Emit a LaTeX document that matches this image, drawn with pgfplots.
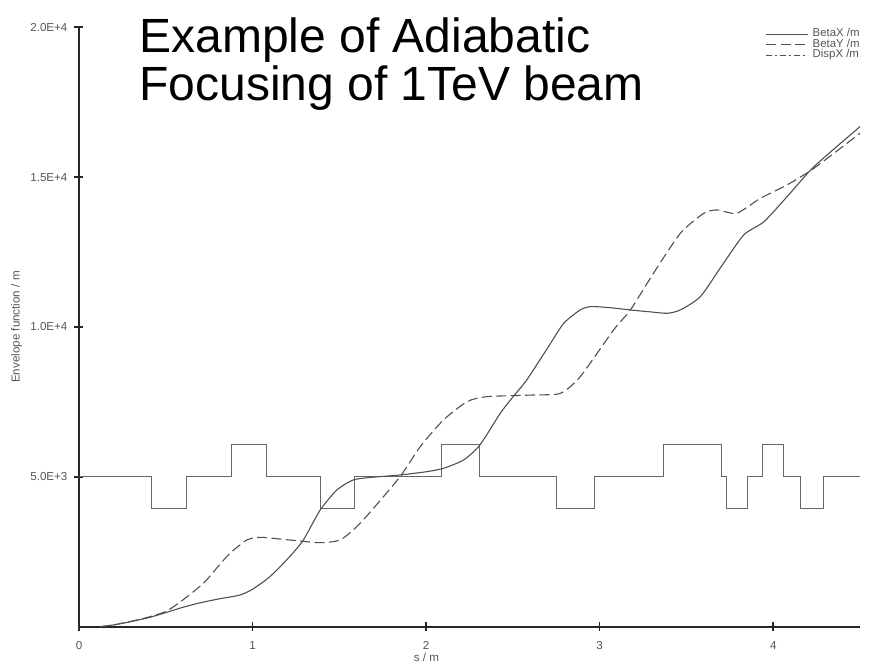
\documentclass[border=0pt]{standalone}
\usepackage{pgfplots}
\pgfplotsset{compat=1.18}
\usepackage{fontspec}
\setmainfont{Liberation Sans}

\definecolor{curve}{HTML}{505050}
\definecolor{lattice}{HTML}{666666}
\definecolor{labelgray}{HTML}{555555}

% beta functions along the final focus (s in m, beta in m)
\pgfplotstableread{
s      beta
0.12   0
0.20   60
0.30   170
0.40   300
0.506  480
0.60   650
0.70   800
0.80   920
0.927  1058
1.00   1250
1.10   1670
1.20   2250
1.29   2870
1.39   3895
1.486  4562
1.58   4895
1.68   4980
1.85   5062
2.00   5170
2.10   5285
2.216  5563
2.31   6063
2.427  7120
2.505  7700
2.58   8233
2.70   9300
2.793  10124
2.888  10569
2.946  10680
3.05   10650
3.177  10569
3.30   10500
3.39   10458
3.465  10569
3.58   11012
3.70   12013
3.83   13071
3.947  13515
4.08   14350
4.235  15350
4.50   16685
}\betax

\pgfplotstableread{
s      beta
0.12   0
0.20   60
0.30   180
0.40   320
0.506  524
0.60   900
0.717  1448
0.80   2000
0.87   2449
0.967  2893
1.043  2983
1.15   2930
1.255  2870
1.39   2803
1.505  2893
1.60   3337
1.68   3838
1.85   5006
1.966  6007
2.10   6898
2.236  7508
2.35   7675
2.62   7732
2.774  7788
2.888  8343
3.08   9900
3.177  10569
3.31   11793
3.465  13128
3.60   13795
3.677  13906
3.79   13795
3.926  14295
4.08   14741
4.235  15297
4.50   16465
}\betay

% lattice: quadrupoles drawn as boxes on the 5000 m baseline
\pgfplotstableread{
s     y
0     5000
0.42  5000
0.42  3930
0.62  3930
0.62  5000
0.88  5000
0.88  6070
1.08  6070
1.08  5000
1.39  5000
1.39  3930
1.59  3930
1.59  5000
2.09  5000
2.09  6070
2.31  6070
2.31  5000
2.75  5000
2.75  3930
2.97  3930
2.97  5000
3.37  5000
3.37  6070
3.70  6070
3.70  5000
3.73  5000
3.73  3930
3.85  3930
3.85  5000
3.94  5000
3.94  6070
4.06  6070
4.06  5000
4.16  5000
4.16  3930
4.29  3930
4.29  5000
4.50  5000
}\lattice

\begin{document}
\begin{tikzpicture}
\path[use as bounding box] (-39.5pt,-20.65pt) rectangle (401pt,313.35pt);
\begin{axis}[
  scale only axis,
  width=390.5pt, height=299.7pt,
  xmin=0, xmax=4.5, ymin=0, ymax=20000,
  axis x line=bottom, axis y line=left,
  axis line style={-, line width=1pt, black!85},
  xtick={0,1,2,3,4},
  xticklabels={0,1,2,3,4},
  ytick={5000,10000,15000,20000},
  yticklabels={5.0E+3,1.0E+4,1.5E+4,2.0E+4},
  scaled y ticks=false,
  tick align=center,
  major tick length=4.5pt,
  tick style={black!85, line width=0.8pt},
  ticklabel style={font=\fontsize{5.8}{7}\selectfont, text=labelgray},
  xticklabel style={yshift=-1.5pt},
  yticklabel style={xshift=0pt},
  xlabel={s / m},
  ylabel={Envelope function / m},
  label style={font=\fontsize{5.8}{7}\selectfont, text=labelgray},
  xlabel style={at={(axis description cs:0.445,0)}, anchor=north, inner sep=0pt, yshift=-13.2pt},
  ylabel style={at={(axis description cs:0,0.5)}, anchor=south, yshift=25pt},
  legend style={draw=none, fill=none, at={(axis description cs:1,1)}, anchor=north east,
    xshift=2pt, yshift=1.5pt,
    font=\fontsize{5.7}{5}\selectfont, text=labelgray,
    row sep=-4.4pt, inner sep=0pt},
  legend cell align=left,
  legend image code/.code={\draw[#1] plot coordinates {(0pt,0pt) (10.5pt,0pt) (21pt,0pt)};},
]
\addplot[lattice, line width=0.5pt, forget plot] table[x=s, y=y] {\lattice};
\addplot[curve, line width=0.55pt, smooth, tension=0.4] table[x=s, y=beta] {\betax};
\addlegendentry{BetaX /m}
\addplot[curve, line width=0.55pt, smooth, tension=0.4, dash pattern=on 5pt off 2.2pt] table[x=s, y=beta] {\betay};
\addlegendentry{BetaY /m}
\addlegendimage{curve, line width=0.55pt, dash pattern=on 3pt off 1.6pt on 0.8pt off 1.6pt}
\addlegendentry{DispX /m}
\end{axis}
\node[anchor=base west, font=\fontsize{24}{26}\selectfont, inner sep=0pt] at (30pt,287.3pt) {Example of Adiabatic};
\node[anchor=base west, font=\fontsize{24}{26}\selectfont, inner sep=0pt] at (30pt,263.3pt) {Focusing of 1TeV beam};
\end{tikzpicture}
\end{document}
